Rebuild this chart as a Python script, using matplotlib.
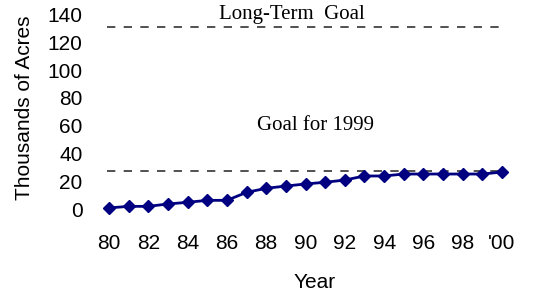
import matplotlib
matplotlib.use("Agg")
import matplotlib.pyplot as plt

# data
years = [80, 81, 82, 83, 84, 85, 86, 87, 88, 89, 90, 91, 92, 93, 94, 95, 96, 97, 98, 99, 100]
acres = [1.5, 2.6, 2.6, 4.3, 5.5, 6.9, 6.9, 12.6, 15.5, 17.1, 18.6, 19.8, 21.4, 24.3, 24.3,
         25.7, 25.7, 25.7, 25.7, 25.7, 27.1]
goal_1999 = 28
goal_long = 131
xticks = [80, 82, 84, 86, 88, 90, 92, 94, 96, 98, 100]
xticklabels = ["80", "82", "84", "86", "88", "90", "92", "94", "96", "98", "'00"]
yticks = [0, 20, 40, 60, 80, 100, 120, 140]

plt.rcParams['font.family'] = ['Liberation Sans', 'DejaVu Sans']

fig = plt.figure(figsize=(5.36, 2.93), dpi=100)
ax = fig.add_axes([0.1667, 0.2594, 0.8066, 0.7167])

ax.hlines([goal_long, goal_1999], 79.9, 100, colors='#333333', linestyles=(0, (5, 5)), linewidth=1.2)
ax.plot(years, acres, color='#000080', linewidth=2, marker='D', markersize=6)

ax.text(89.3, 139.3, "Long-Term  Goal", ha='center', va='center', fontsize=15,
        family=['Liberation Serif'])
ax.text(90.5, 60.7, "Goal for 1999", ha='center', va='center', fontsize=15,
        family=['Liberation Serif'])

ax.set_xlim(79, 101)
ax.set_ylim(-5, 145)
ax.set_xticks(xticks)
ax.set_xticklabels(xticklabels)
ax.set_yticks(yticks)
ax.tick_params(length=0, labelsize=15)
ax.tick_params(axis='x', pad=12)
ax.tick_params(axis='y', pad=5)
for s in ax.spines.values():
    s.set_visible(False)

fig.text(315 / 536, 1 - 283 / 293, "Year", ha='center', va='center', fontsize=15)
fig.text(25 / 536, 1 - 108 / 293, "Thousands of Acres", ha='center', va='center',
         rotation=90, fontsize=15)

fig.savefig("out.png", dpi=100)
